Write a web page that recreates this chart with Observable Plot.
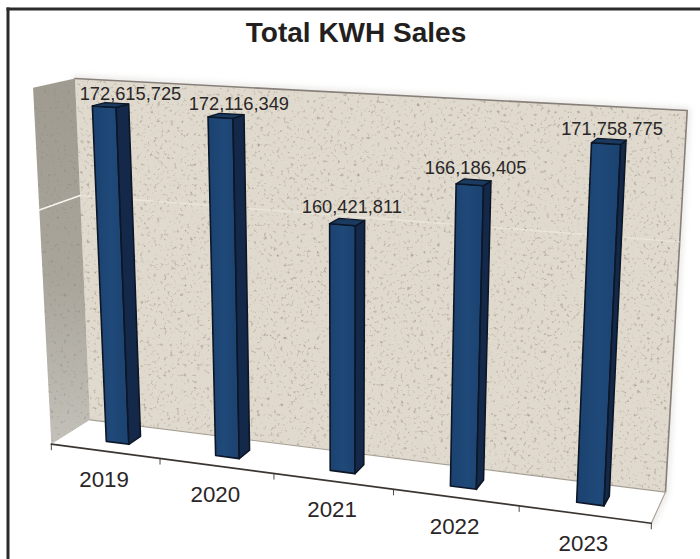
<!DOCTYPE html>
<html>
<head>
<meta charset="utf-8">
<script src="https://cdn.jsdelivr.net/npm/d3@7"></script>
<script src="https://cdn.jsdelivr.net/npm/@observablehq/plot@0.6"></script>
<style>html,body{margin:0;padding:0;background:#fff}svg{display:block}</style>
</head>
<body>
<div id="chart"></div>
<script>
const title = "Total KWH Sales";
const years = ["2019", "2020", "2021", "2022", "2023"];
const sales = [172615725, 172116349, 160421811, 166186405, 171758775];
const gridValues = [160000000];
const valueDomain = [129700000, 174900000];
const labelDepth = [1.0, 0.86, 0.65, 0.57, 0.67];
const labelLift = [-0.011, -0.006, 0.006, 0.008, 0];

// Camera calibration of the 3-D box: [along, up, deep] -> picture.
const calibration = [
  [0,0,0,51,444],[.2,0,0,159.7,457.7],[.4,0,0,273.3,473],[.6,0,0,393.3,489.3],[.8,0,0,518.3,505],[1,0,0,651,522.7],
  [0,1,0,32.3,87.3],[0,0,1,89.3,419.3],[1,0,1,665,491.7],[0,1,1,74.7,78],[1,1,1,686.7,110]
];
function solveCamera(pts) {
  const rows = [];
  for (const [u,h,d,x,y] of pts) {
    rows.push([u,h,d,1,0,0,0,0,-x*u,-x*h,-x*d,x]);
    rows.push([0,0,0,0,u,h,d,1,-y*u,-y*h,-y*d,y]);
  }
  const n = 11, A = d3.range(n).map(i => d3.range(n+1).map(j => d3.sum(rows, r => r[i]*r[j])));
  for (let i = 0; i < n; i++) {
    let m = i; for (let k = i+1; k < n; k++) if (Math.abs(A[k][i]) > Math.abs(A[m][i])) m = k;
    [A[i],A[m]] = [A[m],A[i]];
    for (let k = 0; k < n; k++) if (k !== i) { const f = A[k][i]/A[i][i]; for (let j = i; j <= n; j++) A[k][j] -= f*A[i][j]; }
  }
  return A.map((r,i) => r[n]/r[i]);
}
const P = solveCamera(calibration);
const project = (u,h,d) => {
  const w = P[8]*u + P[9]*h + P[10]*d + 1;
  return {x:(P[0]*u+P[1]*h+P[2]*d+P[3])/w, y:(P[4]*u+P[5]*h+P[6]*d+P[7])/w};
};
const poly = (id, corners) => [...corners, corners[0]].map(c => ({...project(...c), id}));

const xs = Plot.scale({x:{type:"band", domain:years, range:[0,1], paddingInner:0.79, paddingOuter:0.395}});
const ys = Plot.scale({y:{type:"linear", domain:valueDomain, range:[0,1]}});
const bw = xs.bandwidth, dFront = 0.33, dBack = 0.65;

const front=[], side=[], top_=[];
years.forEach((yr,i) => {
  const u0=xs.apply(yr), u1=u0+bw, h=ys.apply(sales[i]);
  front.push(...poly(yr,[[u0,0,dFront],[u1,0,dFront],[u1,h,dFront],[u0,h,dFront]]));
  side.push(...poly(yr,[[u1,0,dFront],[u1,0,dBack],[u1,h,dBack],[u1,h,dFront]]));
  top_.push(...poly(yr,[[u0,h,dFront],[u1,h,dFront],[u1,h,dBack],[u0,h,dBack]]));
});
const valueLabels = years.map((yr,i) => ({...project(xs.apply(yr)+bw/2, ys.apply(sales[i])+labelLift[i], labelDepth[i]), t:d3.format(",")(sales[i])}));
const yearLabels = years.map(yr => ({...project(xs.apply(yr)+bw/2, 0, 0), t:yr}));
const ticks = d3.range(6).map(i => project(i/5,0,0));
const gridBack = gridValues.flatMap(v => [project(0,ys.apply(v),1), project(1,ys.apply(v),1)].map(p => ({...p,id:v})));
const gridSide = gridValues.flatMap(v => [project(0,ys.apply(v),0), project(0,ys.apply(v),1)].map(p => ({...p,id:v})));

const xy = {x:"x", y:"y"};
const svg = Plot.plot({
  width:700, height:559,
  marginLeft:7.5, marginTop:8.5, marginRight:-3, marginBottom:-3,
  x:{type:"identity", axis:null}, y:{type:"identity", axis:null},
  marks:[
    Plot.line(poly("glow",[[0,1,1],[1,1,1],[1,0,1],[1,0,0]]), {...xy, z:"id", stroke:"#c9c6c0", strokeWidth:5, imageFilter:"blur(3px)", strokeOpacity:.5}),
    Plot.line(poly("back",[[0,0,1],[1,0,1],[1,1,1],[0,1,1]]), {...xy, z:"id", fill:"#e0dace", stroke:"none", imageFilter:"url(#speckle)"}),
    Plot.line(poly("left",[[0,0,0],[0,0,1],[0,1,1],[0,1,0]]), {...xy, z:"id", fill:"url(#leftwall)", stroke:"none", imageFilter:"url(#speckle2)"}),
    Plot.line([project(0,1,1),project(1,1,1),project(1,0,1)], {...xy, stroke:"#87807a", strokeWidth:1.6}),
    Plot.line(poly("floor",[[0,0,0],[1,0,0],[1,0,1],[0,0,1]]), {...xy, z:"id", fill:"#fff", stroke:"none"}),
    Plot.line([project(0,0,1),project(1,0,1),project(1,0,0)], {...xy, stroke:"#a79f96", strokeWidth:1.1}),
    Plot.line(gridSide, {...xy, z:"id", stroke:"#f6f4ef", strokeWidth:1.6}),
    Plot.line(gridBack, {...xy, z:"id", stroke:"#f2eee6", strokeWidth:1.4, strokeOpacity:.55}),
    Plot.link(ticks, {x1:"x", y1:"y", x2:"x", y2:d=>d.y+6, stroke:"#4d4843", strokeWidth:1}),
    Plot.line([project(0,0,0),project(1,0,0)], {...xy, stroke:"#3a3531", strokeWidth:1.7}),
    Plot.line(front, {...xy, z:"id", fill:"url(#barfront)", stroke:"#0c1626", strokeWidth:1.6}),
    Plot.line(side, {...xy, z:"id", fill:"#14294a", stroke:"#0c1626", strokeWidth:1.6}),
    Plot.line(top_, {...xy, z:"id", fill:"#1b3a60", stroke:"#0c1626", strokeWidth:1.3}),
    Plot.text(valueLabels, {...xy, text:"t", dy:-10, fontSize:18.3, fill:"#2a2627", fontFamily:"Liberation Sans"}),
    Plot.text(yearLabels, {...xy, text:"t", dy:29, dx:-1, fontSize:22.3, fill:"#2a2627", fontFamily:"Liberation Sans"}),
    Plot.text([title], {x:()=>355.5, y:()=>33, text:d=>d, fontSize:28, fontWeight:"bold", fill:"#231f20", fontFamily:"Liberation Sans"}),
    Plot.frame({anchor:"left", stroke:"#2b2b2b", strokeWidth:3}),
    Plot.frame({anchor:"top", stroke:"#2b2b2b", strokeWidth:3})
  ]
});
svg.insertAdjacentHTML("afterbegin", `<defs>
<linearGradient id="leftwall" x1="0" y1="0" x2="0" y2="1"><stop offset="0" stop-color="#a09b90"/><stop offset=".55" stop-color="#a9a59b"/><stop offset="1" stop-color="#c4c1ba"/></linearGradient>
<linearGradient id="barfront" x1="0" y1="0" x2="1" y2="0"><stop offset="0" stop-color="#1b4270"/><stop offset=".5" stop-color="#1f4979"/><stop offset="1" stop-color="#1b4270"/></linearGradient>
<filter id="speckle" x="0" y="0" width="100%" height="100%" color-interpolation-filters="sRGB"><feTurbulence type="fractalNoise" baseFrequency="0.3" numOctaves="3" seed="7" result="n"/><feColorMatrix in="n" type="matrix" values="0 0 0 0 .66 0 0 0 0 .62 0 0 0 0 .54 3.2 0 0 0 -1.9"/><feGaussianBlur stdDeviation="0.6"/><feComposite in2="SourceAlpha" operator="in" result="s"/><feMerge><feMergeNode in="SourceGraphic"/><feMergeNode in="s"/></feMerge></filter>
<filter id="speckle2" x="0" y="0" width="100%" height="100%" color-interpolation-filters="sRGB"><feTurbulence type="fractalNoise" baseFrequency="0.3" numOctaves="2" seed="3" result="n"/><feColorMatrix in="n" type="matrix" values="0 0 0 0 .52 0 0 0 0 .5 0 0 0 0 .45 2 0 0 0 -1.25"/><feGaussianBlur stdDeviation="0.7"/><feComposite in2="SourceAlpha" operator="in" result="s"/><feMerge><feMergeNode in="SourceGraphic"/><feMergeNode in="s"/></feMerge></filter>
</defs>`);
document.getElementById("chart").append(svg);
</script>
</body>
</html>
